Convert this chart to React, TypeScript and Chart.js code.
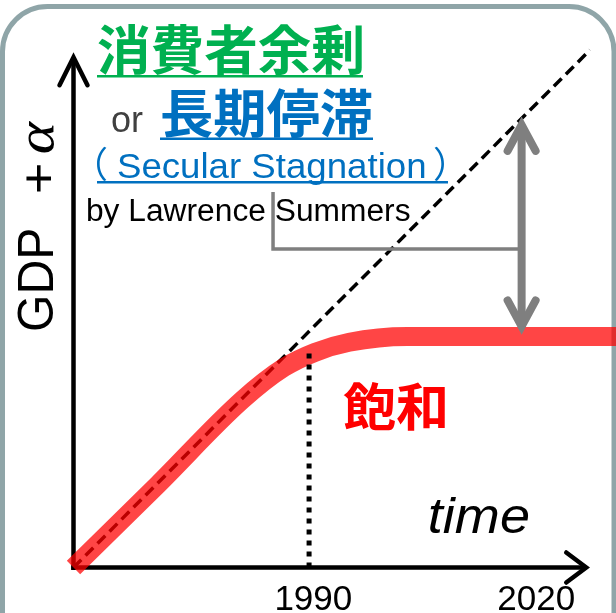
import React, { useEffect, useRef } from "react";
import { Chart, registerables } from "chart.js";

Chart.register(...registerables);

// Time axis (years) and GDP index values
const tickYears = [1990, 2020];
const tickLabels = ["1990", "2020"];

// Straight-line growth trend
const trendYears = [1958, 2027.5];
const trendGdp = [0, 98.1];

// Actual path: linear growth, then bending into a plateau
const actualYears = [1958, 1969.4, 1980.7, 1986.3, 1990.5, 1995.1, 2002.9, 2031];
const actualGdp = [0, 15.8, 31.75, 37.9, 40.8, 42.7, 43.8, 43.8];

// 1990 marker
const markerYears = [1989.7, 1989.7];
const markerGdp = [0, 40.7];

// Gap between trend and plateau
const gapYear = 2018.3;
const gapGdp = [44.1, 85.5];

// Leader from the caption to the gap arrow
const leaderYears = [1984.85, 1984.85, 2018.3];
const leaderGdp = [71.2, 60.4, 60.4];

// Axis arrow tips
const axisEndYear = 2027.5;
const axisTopGdp = 97.7;

const pts = (xs: number[], ys: number[]) => xs.map((x, i) => ({ x, y: ys[i] }));

const SANS = '"Liberation Sans", Arial, sans-serif';
const CJK = '"Noto Sans CJK JP", "Noto Sans CJK SC", sans-serif';

function chevron(
  ctx: CanvasRenderingContext2D,
  tipX: number,
  tipY: number,
  dirX: number,
  dirY: number,
  len: number,
  half: number,
  width: number
) {
  const sinHalf = half / Math.hypot(len, half);
  const ext = width / 2 / sinHalf;
  const px = tipX - dirX * ext;
  const py = tipY - dirY * ext;
  const nx = -dirY;
  const ny = dirX;
  ctx.lineWidth = width;
  ctx.lineJoin = "miter";
  ctx.lineCap = "round";
  ctx.beginPath();
  ctx.moveTo(px - dirX * len + nx * half, py - dirY * len + ny * half);
  ctx.lineTo(px, py);
  ctx.lineTo(px - dirX * len - nx * half, py - dirY * len - ny * half);
  ctx.stroke();
  return { x: px, y: py };
}

// Draws text with its ink starting at `left`; optionally stretched to `width`
function inkText(
  ctx: CanvasRenderingContext2D,
  s: string,
  left: number,
  baseline: number,
  font: string,
  color: string,
  width?: number
) {
  ctx.save();
  ctx.font = font;
  ctx.fillStyle = color;
  ctx.textAlign = "left";
  ctx.textBaseline = "alphabetic";
  const m = ctx.measureText(s);
  const ink = m.actualBoundingBoxLeft + m.actualBoundingBoxRight;
  const sx = width ? width / ink : 1;
  ctx.translate(left, baseline);
  ctx.scale(sx, 1);
  ctx.fillText(s, m.actualBoundingBoxLeft, 0);
  ctx.restore();
}

function underline(ctx: CanvasRenderingContext2D, x0: number, x1: number, y: number, color: string) {
  ctx.fillStyle = color;
  ctx.fillRect(x0, y, x1 - x0, 2.5);
}

const diagramPlugin = {
  id: "diagram",
  beforeDraw(chart: any) {
    const ctx: CanvasRenderingContext2D = chart.ctx;
    ctx.save();
    ctx.strokeStyle = "#8fa5a8";
    ctx.lineWidth = 5;
    ctx.beginPath();
    (ctx as any).roundRect(2.5, 6.5, 611.5, 700, 45);
    ctx.stroke();
    ctx.restore();
  },
  beforeDatasetsDraw(chart: any) {
    const ctx: CanvasRenderingContext2D = chart.ctx;
    const { left, bottom } = chart.chartArea;
    const xs = chart.scales.x;
    const ys = chart.scales.y;
    ctx.save();
    ctx.strokeStyle = "#000";
    // y axis
    const yTip = ys.getPixelForValue(axisTopGdp);
    const yp = chevron(ctx, left, yTip, 0, -1, 28, 14, 4.5);
    ctx.lineCap = "butt";
    ctx.beginPath();
    ctx.moveTo(left, bottom + 2.5);
    ctx.lineTo(left, yp.y);
    ctx.stroke();
    // x axis
    const xTip = xs.getPixelForValue(axisEndYear);
    const xp = chevron(ctx, xTip, bottom, 1, 0, 20, 15, 4.5);
    ctx.lineCap = "butt";
    ctx.beginPath();
    ctx.moveTo(left - 2.25, bottom);
    ctx.lineTo(xp.x, bottom);
    ctx.stroke();
    ctx.restore();
  },
  afterDatasetsDraw(chart: any) {
    const ctx: CanvasRenderingContext2D = chart.ctx;
    const xs = chart.scales.x;
    const ys = chart.scales.y;
    ctx.save();
    ctx.strokeStyle = "#7f7f7f";
    const gx = xs.getPixelForValue(gapYear);
    const lo = ys.getPixelForValue(gapGdp[0]);
    const hi = ys.getPixelForValue(gapGdp[1]);
    const top = chevron(ctx, gx, hi, 0, -1, 26, 14, 8);
    const bot = chevron(ctx, gx, lo, 0, 1, 26, 14, 8);
    ctx.lineCap = "butt";
    ctx.beginPath();
    ctx.moveTo(gx, top.y);
    ctx.lineTo(gx, bot.y);
    ctx.stroke();
    ctx.restore();
  },
  afterDraw(chart: any) {
    const ctx: CanvasRenderingContext2D = chart.ctx;
    const xs = chart.scales.x;
    ctx.save();

    // Y axis title, rotated
    ctx.save();
    ctx.translate(53, 330);
    ctx.rotate(-Math.PI / 2);
    inkText(ctx, "GDP", 0, 0, `50px ${SANS}`, "#000", 100);
    inkText(ctx, "+", 138, 2, `50px ${SANS}`, "#000", 27);
    inkText(ctx, "α", 177, 0, `italic 52px "Liberation Serif", "DejaVu Serif", serif`, "#000", 33);
    ctx.restore();

    // Headline
    inkText(ctx, "消費者余剰", 98, 70, `bold 53px ${CJK}`, "#00b050", 264);
    underline(ctx, 97, 363, 75, "#00b050");
    inkText(ctx, "or", 112, 132, `36px ${SANS}`, "#404040");
    inkText(ctx, "長期停滞", 162, 133, `bold 52px ${CJK}`, "#0070c0", 210);
    underline(ctx, 160, 373, 137.5, "#0070c0");
    inkText(ctx, "（", 97, 178, `36px ${CJK}`, "#0070c0");
    inkText(ctx, "Secular Stagnation", 118, 178, `35px ${SANS}`, "#0070c0", 307);
    inkText(ctx, "）", 434, 178, `36px ${CJK}`, "#0070c0");
    underline(ctx, 97, 448, 181, "#0070c0");
    inkText(ctx, "by Lawrence Summers", 88, 221, `31px ${SANS}`, "#000", 322);

    // Plateau label and time axis title
    inkText(ctx, "飽和", 343, 426, `bold 51px ${CJK}`, "#ff0000", 102);
    inkText(ctx, "time", 430, 533, `italic 50px ${SANS}`, "#000", 98);

    // Year ticks
    ctx.font = `35px ${SANS}`;
    ctx.fillStyle = "#000";
    ctx.textAlign = "center";
    ctx.textBaseline = "alphabetic";
    tickYears.forEach((yr, i) => {
      ctx.fillText(tickLabels[i], xs.getPixelForValue(yr) + 2, 610);
    });

    ctx.restore();
  },
};

export default function App() {
  const ref = useRef<HTMLCanvasElement | null>(null);

  useEffect(() => {
    const canvas = ref.current;
    if (!canvas) return;
    const chart = new Chart(canvas, {
      type: "line",
      data: {
        datasets: [
          {
            data: pts(trendYears, trendGdp),
            borderColor: "#000",
            borderWidth: 3.5,
            borderDash: [11, 6],
            order: 5,
            clip: false,
          } as any,
          {
            data: pts(actualYears, actualGdp),
            borderColor: "rgba(255,0,0,0.73)",
            borderWidth: 19,
            cubicInterpolationMode: "monotone",
            order: 4,
            clip: false,
          } as any,
          {
            data: pts(markerYears, markerGdp),
            borderColor: "#000",
            borderWidth: 5,
            borderDash: [5, 6],
            order: 3,
            clip: false,
          } as any,
          {
            data: pts(leaderYears, leaderGdp),
            borderColor: "#7f7f7f",
            borderWidth: 3.5,
            order: 2,
            clip: false,
          } as any,
        ],
      },
      options: {
        animation: false,
        responsive: false,
        devicePixelRatio: 1,
        events: [],
        layout: { padding: { left: 73.5, right: 0, top: 40, bottom: 45.5 } },
        scales: {
          x: { type: "linear", display: false, min: 1958, max: 2031 },
          y: { type: "linear", display: false, min: 0, max: 100 },
        },
        plugins: { legend: { display: false }, tooltip: { enabled: false } },
        elements: { point: { radius: 0 }, line: { tension: 0, fill: false } },
      },
      plugins: [diagramPlugin],
    });
    return () => chart.destroy();
  }, []);

  return (
    <div style={{ position: "fixed", left: 0, top: 0, width: 616, height: 613, background: "#fff" }}>
      <canvas ref={ref} width={616} height={613} style={{ display: "block" }} />
    </div>
  );
}
